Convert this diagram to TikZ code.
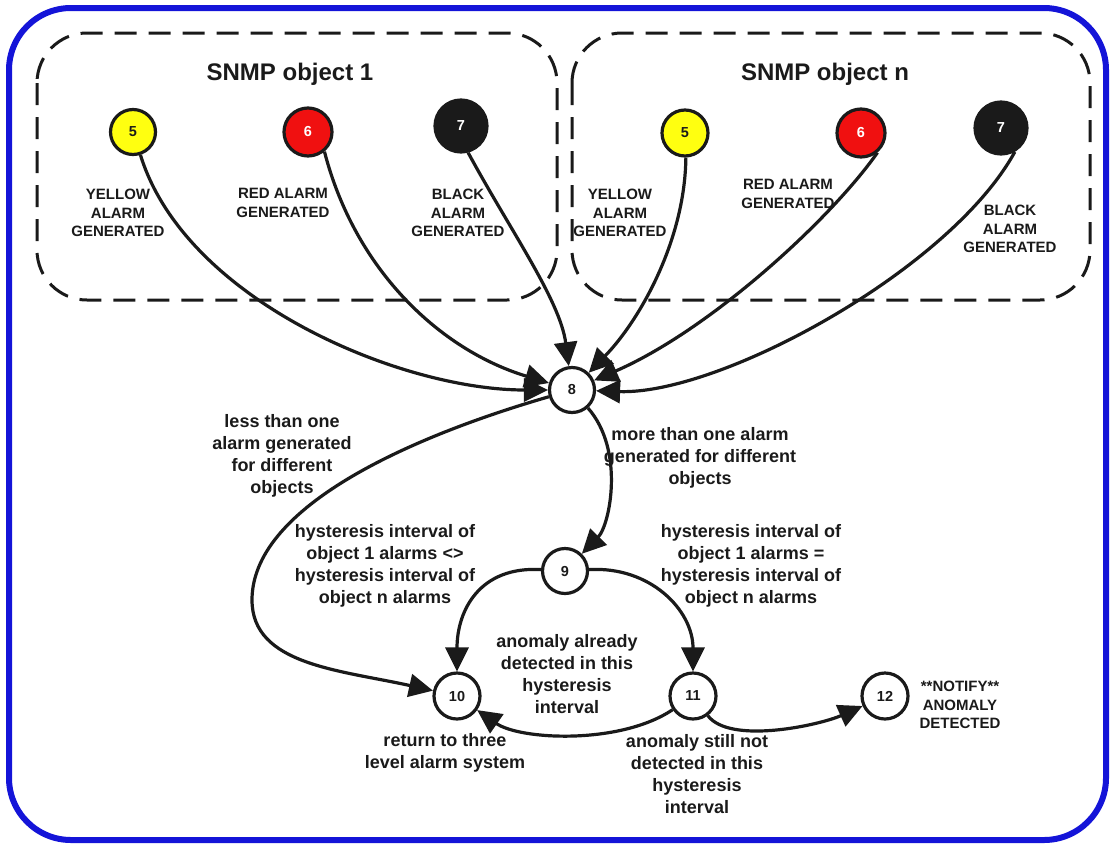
\documentclass[tikz,border=0pt]{standalone}
\usepackage{fontspec}
\setmainfont{Liberation Sans}
\usetikzlibrary{arrows.meta}
\definecolor{ink}{HTML}{1A1A1A}
\definecolor{frameblue}{HTML}{1414D8}
\definecolor{alyellow}{HTML}{FFFF10}
\definecolor{alred}{HTML}{F01010}
\begin{document}
\begin{tikzpicture}[x=1pt,y=-1pt,
 st/.style={circle,draw=ink,line width=3.2pt,inner sep=0pt,fill=white,text=ink,font=\bfseries\fontsize{14.5}{15}\selectfont},
 lbl/.style={align=center,font=\bfseries\fontsize{15}{18.5}\selectfont,text=ink},
 txt/.style={align=center,font=\bfseries\fontsize{18}{22}\selectfont,text=ink},
 ttl/.style={font=\bfseries\fontsize{24}{28}\selectfont,text=ink},
 conn/.style={draw=ink,line width=3.2pt,-{Triangle[length=24pt,width=23pt]}},
 dbox/.style={draw=ink,line width=3pt,dash pattern=on 22pt off 12pt,rounded corners=50pt}]
\useasboundingbox (0,0) rectangle (1110,846);
\draw[frameblue,line width=6pt,rounded corners=62pt] (9,8) rectangle (1106,840);
\draw[dbox] (37,33) rectangle (557,300);
\draw[dbox] (572,33) rectangle (1090,300);
\node[ttl] (t1) at (290,74) {SNMP object 1};
\node[ttl] (tn) at (825,74) {SNMP object n};
% nodes
\node[st,fill=alyellow,minimum size=45pt] (y1) at (133,132) {5};
\node[st,fill=alred,text=white,minimum size=48pt] (r1) at (308,132) {6};
\node[st,fill=ink,text=white,minimum size=52pt] (b1) at (461,126) {7};
\node[st,fill=alyellow,minimum size=46pt] (yn) at (685,133) {5};
\node[st,fill=alred,text=white,minimum size=48pt] (rn) at (861,133) {6};
\node[st,fill=ink,text=white,minimum size=52pt] (bn) at (1001,128) {7};
\node[st,minimum size=45pt] (n8) at (572,390) {8};
\node[st,minimum size=45pt] (n9) at (565,571) {9};
\node[st,minimum size=46pt] (n10) at (457,696) {10};
\node[st,minimum size=46pt] (n11) at (693,696) {11};
\node[st,minimum size=46pt] (n12) at (885,696) {12};
% labels
\node[lbl] (ly1) at (118,213) {YELLOW\\ALARM\\GENERATED};
\node[lbl] (lr1) at (283,203) {RED ALARM\\GENERATED};
\node[lbl] (lb1) at (458,213) {BLACK\\ALARM\\GENERATED};
\node[lbl] (lyn) at (620,213) {YELLOW\\ALARM\\GENERATED};
\node[lbl] (lrn) at (788,194) {RED ALARM\\GENERATED};
\node[lbl] (lbn) at (1010,229) {BLACK\\ALARM\\GENERATED};
\node[txt] (lless) at (282,456) {less than one\\alarm generated\\for different\\objects};
\node[txt] (lmore) at (700,458) {more than one alarm\\generated for different\\objects};
\node[txt] (lneq) at (385,566) {hysteresis interval of\\object 1 alarms <>\\hysteresis interval of\\object n alarms};
\node[txt] (leq) at (751,566) {hysteresis interval of\\object 1 alarms =\\hysteresis interval of\\object n alarms};
\node[txt] (lalready) at (567,674) {anomaly already\\detected in this\\hysteresis\\interval};
\node[txt] (lreturn) at (445,753) {return to three\\level alarm system};
\node[txt] (lstill) at (697,774) {anomaly still not\\detected in this\\hysteresis\\interval};
\node[lbl] (lnotify) at (960,705) {**NOTIFY**\\ANOMALY\\DETECTED};
% connectors
\draw[conn] (y1.-72) .. controls (185,300) and (400,390) .. (n8);
\draw[conn] (r1.-50) .. controls (355,270) and (440,350) .. (n8);
\draw[conn] (b1.-75) .. controls (510,230) and (560,300) .. (n8);
\draw[conn] (yn.-88) .. controls (685,240) and (640,320) .. (n8);
\draw[conn] (rn.-50) .. controls (830,220) and (710,330) .. (n8);
\draw[conn] (bn.-60) .. controls (950,270) and (720,395) .. (n8);
\draw[conn] (n8) .. controls (400,440) and (252,510) .. (252,600) .. controls (252,665) and (340,670) .. (n10);
\draw[conn] (n8) .. controls (625,450) and (610,525) .. (n9);
\draw[conn] (n9) .. controls (480,566) and (457,610) .. (n10);
\draw[conn] (n9) .. controls (650,566) and (693,610) .. (n11);
\draw[conn] (n11) .. controls (620,745) and (520,740) .. (n10);
\draw[conn] (n11) .. controls (730,745) and (820,725) .. (n12);
\end{tikzpicture}
\end{document}
